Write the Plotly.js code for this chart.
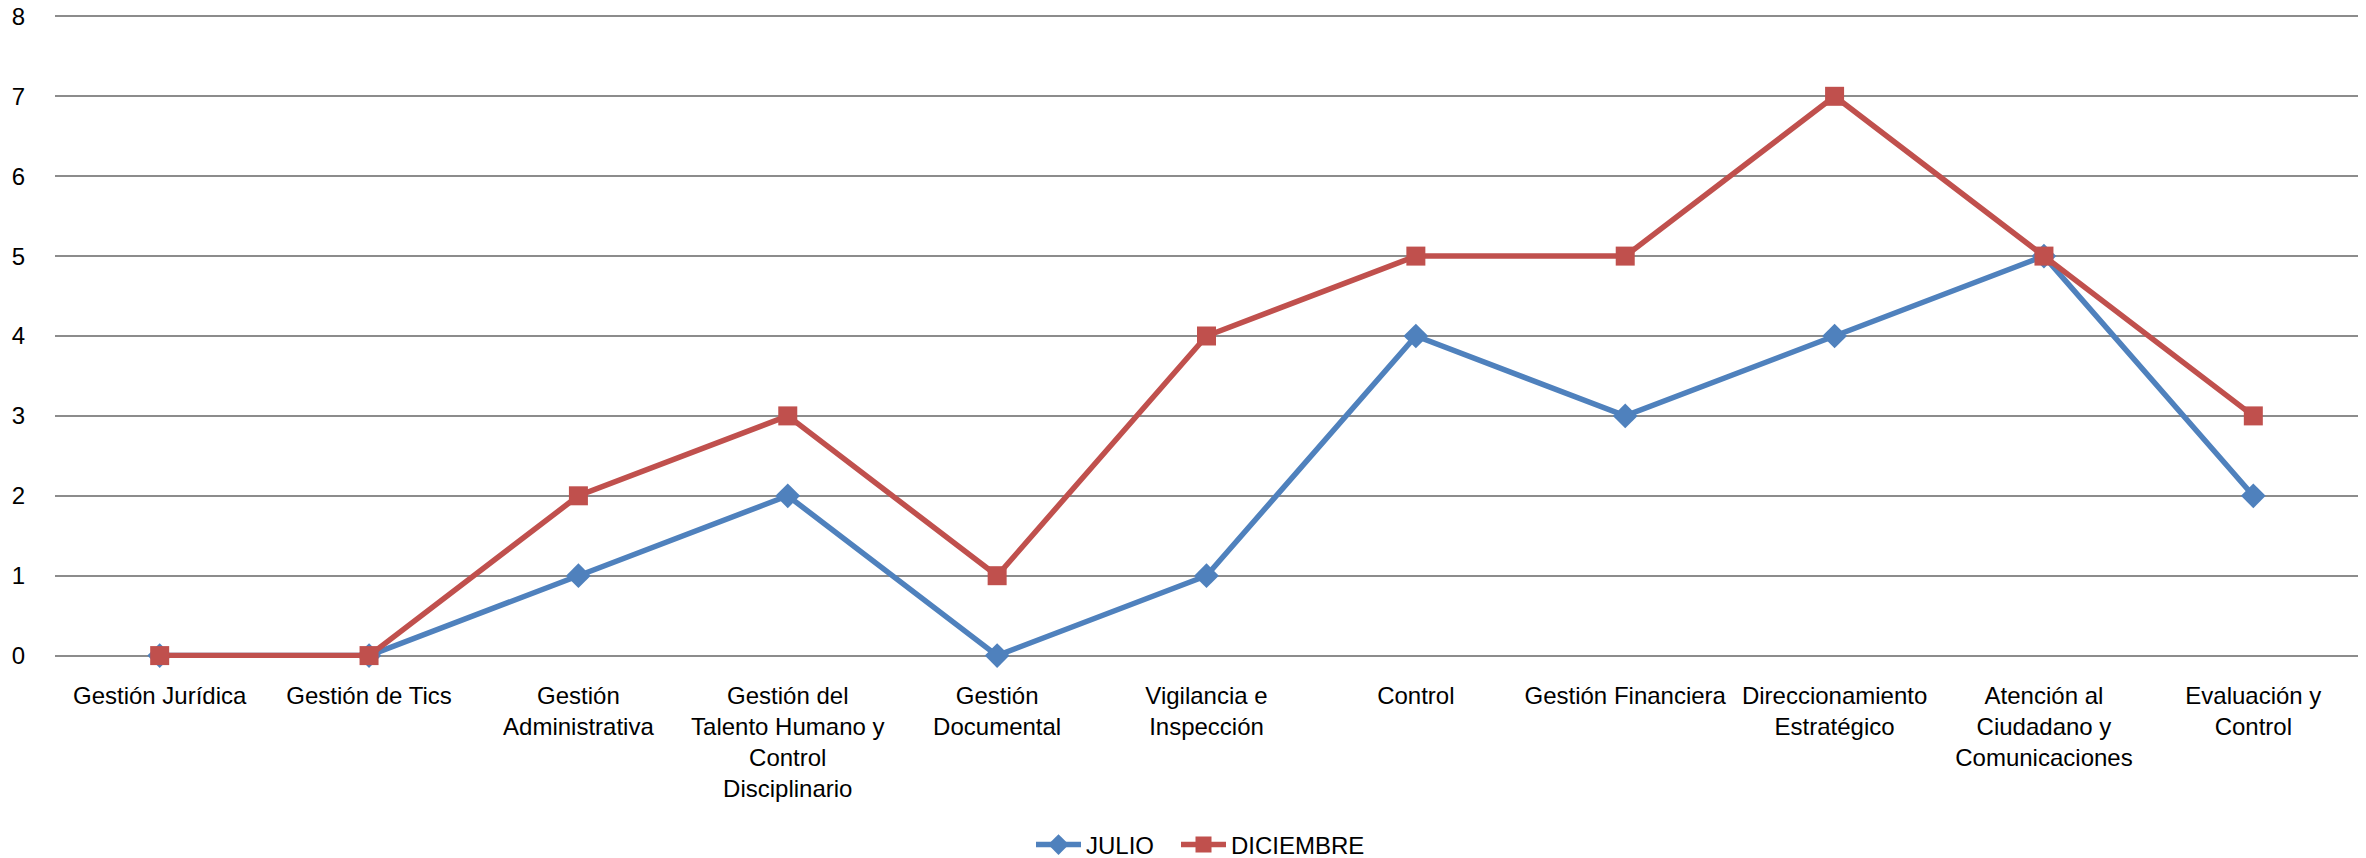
<!DOCTYPE html>
<html>
<head>
<meta charset="utf-8">
<script src="https://cdn.plot.ly/plotly-3.0.1.min.js"></script>
<style>html,body{margin:0;padding:0;background:#fff;}#chart{width:2366px;height:858px;}</style>
</head>
<body>
<div id="chart"></div>
<script>
const categories = [
  "Gestión Jurídica",
  "Gestión de Tics",
  "Gestión<br>Administrativa",
  "Gestión del<br>Talento Humano y<br>Control<br>Disciplinario",
  "Gestión<br>Documental",
  "Vigilancia e<br>Inspección",
  "Control",
  "Gestión Financiera",
  "Direccionamiento<br>Estratégico",
  "Atención al<br>Ciudadano y<br>Comunicaciones",
  "Evaluación y<br>Control"
];
const julio = [0, 0, 1, 2, 0, 1, 4, 3, 4, 5, 2];
const diciembre = [0, 0, 2, 3, 1, 4, 5, 5, 7, 5, 3];
const yTicks = [0, 1, 2, 3, 4, 5, 6, 7, 8];

const font = {family: "Liberation Sans, Arial, sans-serif", size: 24, color: "#000000"};

const traces = [
  {
    x: categories, y: julio, name: "JULIO", type: "scatter", mode: "lines+markers",
    line: {color: "#4F81BD", width: 5.5}, cliponaxis: false, legend: "legend",
    marker: {symbol: "diamond", size: 19, color: "#4F81BD"}
  },
  {
    x: categories, y: diciembre, name: "DICIEMBRE", type: "scatter", mode: "lines+markers",
    line: {color: "#C0504D", width: 5.5}, cliponaxis: false, legend: "legend2",
    marker: {symbol: "square", size: 19, color: "#C0504D"}
  }
];

const layout = {
  width: 2366, height: 858,
  margin: {l: 55, r: 8, t: 13.6, b: 199.6, autoexpand: false},
  paper_bgcolor: "#ffffff", plot_bgcolor: "#ffffff",
  font: font,
  showlegend: true,
  legend: {orientation: "h", xref: "container", yref: "container",
           x: 1031 / 2366, xanchor: "left", y: 1 - 845 / 858, yanchor: "middle",
           font: font, bgcolor: "rgba(0,0,0,0)", itemwidth: 45},
  legend2: {orientation: "h", xref: "container", yref: "container",
           x: 1176 / 2366, xanchor: "left", y: 1 - 845 / 858, yanchor: "middle",
           font: font, bgcolor: "rgba(0,0,0,0)", itemwidth: 45},
  xaxis: {
    type: "category", showgrid: false, zeroline: false, showline: false, automargin: false,
    ticks: "outside", ticklen: 16, tickcolor: "rgba(0,0,0,0)",
    tickfont: font, range: [-0.5, 10.5], fixedrange: true
  },
  yaxis: {
    range: [-0.03, 8.03], tickvals: yTicks, ticktext: yTicks.map(String), automargin: false,
    showgrid: true, gridcolor: "#8c8c8c", gridwidth: 2,
    zeroline: false, showline: false,
    ticks: "outside", ticklen: 24, tickcolor: "rgba(0,0,0,0)",
    tickfont: font, fixedrange: true
  }
};

Plotly.newPlot("chart", traces, layout, {displayModeBar: false, staticPlot: true});
</script>
</body>
</html>
